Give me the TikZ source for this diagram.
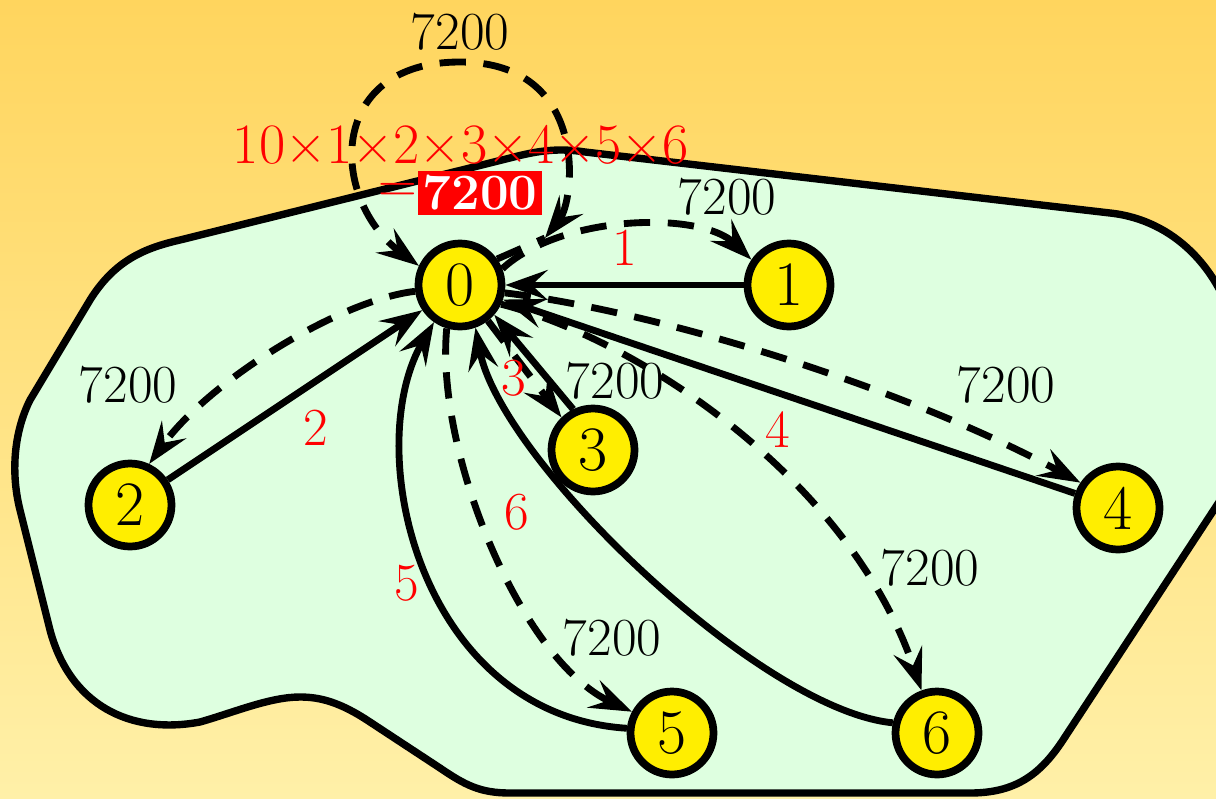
\documentclass[tikz,border=0pt]{standalone}
\usetikzlibrary{arrows.meta}
\definecolor{bgtop}{RGB}{255,213,94}
\definecolor{bgbot}{RGB}{255,240,168}
\definecolor{blobc}{RGB}{222,255,224}
\definecolor{nodey}{RGB}{255,238,0}
\tikzset{
  mytip/.tip={Stealth[length=24pt,width=17pt,inset=9pt]},
  vtx/.style={circle, draw, line width=4.4pt, fill=nodey, minimum size=1.66cm, inner sep=0pt, font=\fontsize{36}{38}\selectfont},
  stroke/.style={line width=3.9pt},
  edge/.style={stroke, -mytip},
  dstroke/.style={stroke, dash pattern=on 15pt off 10pt},
  dedge/.style={dstroke, -mytip},
  lbl/.style={font=\fontsize{30.5}{32}\selectfont, inner sep=0pt},
  rlbl/.style={lbl, text=red},
}
\begin{document}
\begin{tikzpicture}[x=0.02cm,y=-0.02cm]
\useasboundingbox (0,0) rectangle (1216,798);
\shade[top color=bgtop, bottom color=bgbot] (0,0) rectangle (1216,798);
\begin{scope}
\clip (0,0) rectangle (1216,798);
\filldraw[fill=blobc, line width=4.2pt, line join=round]
  (180,240) -- (510,158) .. controls (540,150) and (560,148) .. (585,152)
  -- (1110,213) .. controls (1175,220) and (1220,270) .. (1235,330)
  -- (1240,470) -- (1063,740) .. controls (1040,775) and (1015,793) .. (970,793)
  -- (510,793) .. controls (480,793) and (465,785) .. (440,768)
  -- (370,722) .. controls (340,702) and (320,697) .. (300,697)
  .. controls (270,697) and (235,712) .. (200,722)
  .. controls (130,735) and (70,705) .. (50,630)
  -- (20,510) .. controls (10,470) and (15,430) .. (30,400)
  -- (90,300) .. controls (115,260) and (145,248) .. (180,240) -- cycle;
\end{scope}

\node[vtx] (n0) at (460,285) {0};
\node[vtx] (n1) at (789,285) {1};
\node[vtx] (n2) at (130,505) {2};
\node[vtx] (n3) at (593,450) {3};
\node[vtx] (n4) at (1118,508) {4};
\node[vtx] (n5) at (672,733) {5};
\node[vtx] (n6) at (937,733) {6};

\coordinate (lp) at (545,238);
\coordinate (lt) at (460,62);
\draw[dstroke] (n0.35) -- (lp);
\draw[dstroke, mytip-mytip] (lp) .. controls (575,200) and (590,62) .. (lt)
  .. controls (325,62) and (330,200) .. (n0.155);

\draw[edge] (n1) -- (n0);
\draw[dedge] (n0.21) .. controls (560,215) and (700,210) .. (n1.146);
\draw[dedge] (n0.188) .. controls (340,300) and (210,380) .. (n2.65);
\draw[edge] (n2) -- (n0);
\draw[dedge] (n0.-52) -- (n3.134);
\draw[edge] (n3.116) -- (n0.-41);
\draw[dedge] (n0.-10) .. controls (650,310) and (900,385) .. (n4.146);
\draw[edge] (n4) -- (n0);
\draw[dedge] (n0.-25) .. controls (640,340) and (850,480) .. (n6.110);
\draw[edge] (n6.167) .. controls (760,710) and (500,460) .. (n0.-70);
\draw[dedge] (n0.-107) .. controls (435,450) and (520,660) .. (n5.152);
\draw[edge] (n5.174) .. controls (420,715) and (360,450) .. (n0.-125);

\node[lbl] (l00) at (460,32) {7200};
\node[lbl] (l01) at (727,197) {7200};
\node[lbl] (l02) at (128,385) {7200};
\node[lbl] (l03) at (615,381) {7200};
\node[lbl] (l04) at (1006,385) {7200};
\node[lbl] (l06) at (930,568) {7200};
\node[lbl] (l05) at (612,638) {7200};
\node[rlbl] (r1) at (625,248) {1};
\node[rlbl] (r2) at (316,428) {2};
\node[rlbl] (r3) at (514,378) {3};
\node[rlbl] (r4) at (778,430) {4};
\node[rlbl] (r6) at (517,512) {6};
\node[rlbl] (r5) at (407,583) {5};

\node[rlbl, font=\fontsize{32.5}{34}\selectfont] (formula) at (461,145) {10×1×2×3×4×5×6};
\node[rlbl] (eq) at (398,193) {=};
\node[fill=red, text=white, inner sep=2.5pt, font=\fontsize{29}{31}\selectfont\bfseries] (res) at (480,193) {7200};
\end{tikzpicture}
\end{document}
